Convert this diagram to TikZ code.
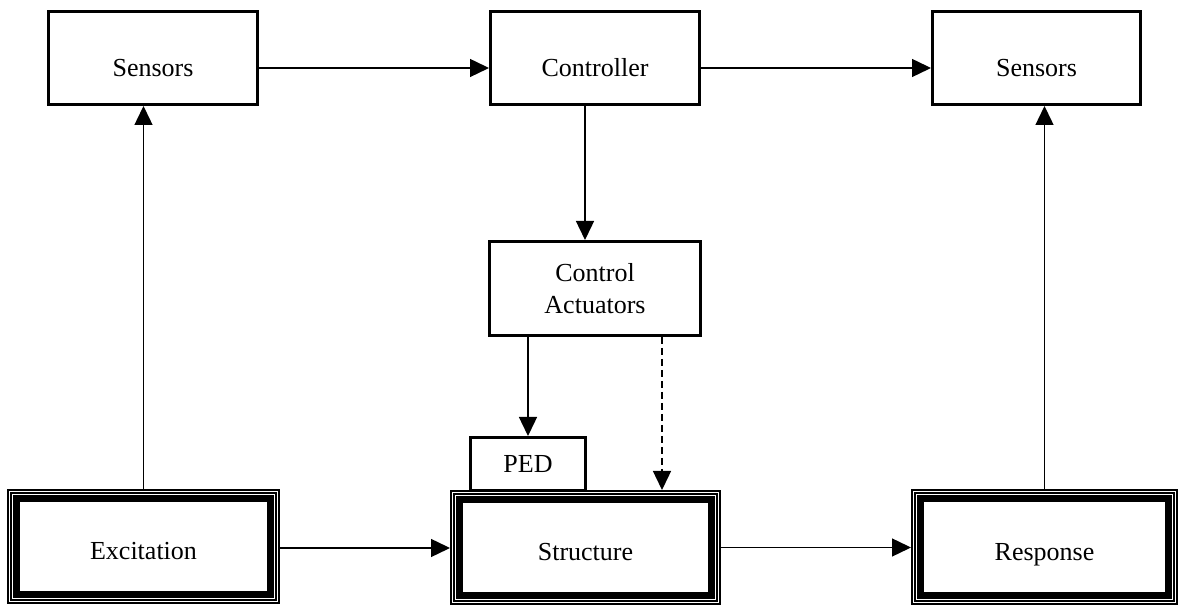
\documentclass[tikz,border=0pt]{standalone}
\usepackage{fontspec}
\setmainfont{Liberation Serif}
\usetikzlibrary{arrows.meta,calc}
\begin{document}
\begin{tikzpicture}[x=1pt,y=1pt,
  box/.style={draw, line width=3pt, fill=white, inner sep=0pt, font=\fontsize{26}{32}\selectfont},
  topbox/.style={box, minimum height=93pt, text height=37pt, text depth=0pt},
  dbox/.style={draw, line width=1.6pt, fill=white, inner sep=0pt, minimum height=113.4pt,
    text height=27pt, text depth=0pt, font=\fontsize{26}{32}\selectfont},
  conn/.style={line width=1.4pt, -{Triangle[length=19pt,width=18pt]}},
  dconn/.style={conn, dash pattern=on 7pt off 4pt}
]
\useasboundingbox (0,0) rectangle (1180,607);

% top row
\node[topbox, minimum width=209pt] (s1) at (153,549) {Sensors};
\node[topbox, minimum width=209pt] (ctrl) at (595,548.5) {Controller};
\node[topbox, minimum width=208pt] (s2) at (1036.5,549) {Sensors};

% actuators and PED
\node[box, minimum width=211pt, minimum height=94pt, align=center] (act) at (595,318.5) {Control\\Actuators};
\node[box, minimum width=115pt, minimum height=53.5pt] (ped) at (528,142.75) {PED};

% bottom row
\node[dbox, minimum width=271.4pt] (exc) at (143.5,60.5) {Excitation};
\node[dbox, minimum width=269.4pt] (struct) at (585.5,59.5) {Structure};
\node[dbox, minimum width=265.4pt, minimum height=114.4pt] (resp) at (1044.5,60) {Response};

\foreach \n in {exc,struct,resp}{
  \draw[line width=9.6pt] ([shift={(8pt,-8pt)}]\n.north west) rectangle ([shift={(-8pt,8pt)}]\n.south east);
  \draw[white, line width=0.7pt] ([shift={(5.6pt,-5.6pt)}]\n.north west) rectangle ([shift={(-5.6pt,5.6pt)}]\n.south east);
}

% connectors
\draw[conn] ([yshift=-10pt]s1.east) -- ([yshift=-10pt]s1.east -| ctrl.west);
\draw[conn] ([yshift=-9.5pt]ctrl.east) -- ([yshift=-9.5pt]ctrl.east -| s2.west);
\draw[conn] ([xshift=-10pt]ctrl.south) -- ([xshift=-10pt]ctrl.south |- act.north);
\draw[conn] (ped.north |- act.south) -- (ped.north);
\draw[dconn] ([xshift=67pt]act.south) -- ([xshift=67pt]act.south |- struct.north);
\draw[conn] (exc.north) -- (exc.north |- s1.south);
\draw[conn] (resp.north) -- (resp.north |- s2.south);
\draw[conn] ([yshift=-1.5pt]exc.east) -- ([yshift=-1.5pt]exc.east -| struct.west);
\draw[conn] (struct.east) -- (struct.east -| resp.west);
\end{tikzpicture}
\end{document}
